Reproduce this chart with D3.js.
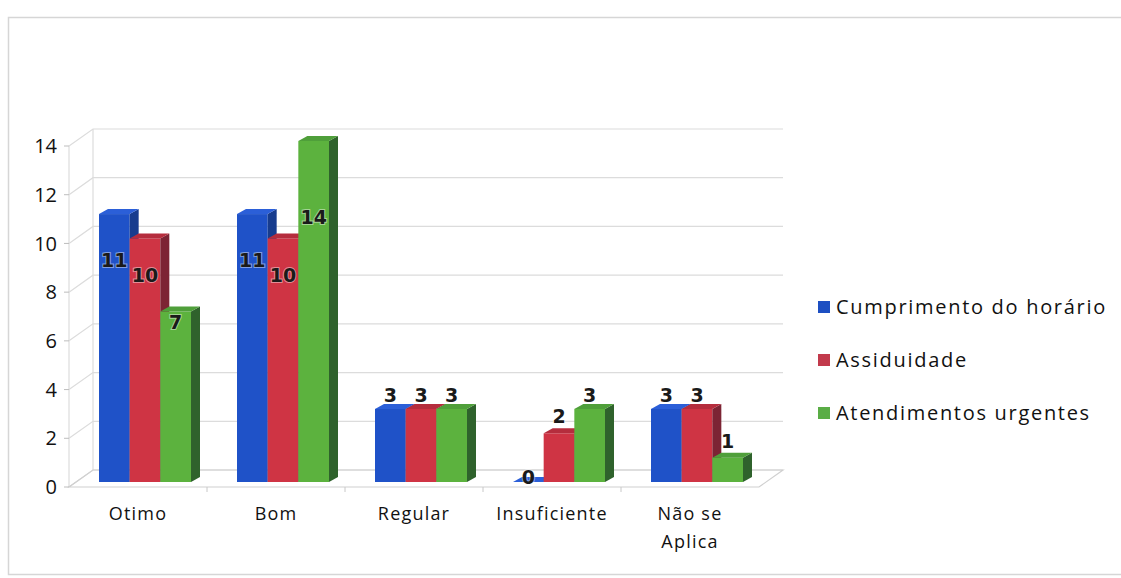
<!DOCTYPE html>
<html>
<head>
<meta charset="utf-8">
<script src="https://cdn.jsdelivr.net/npm/d3@7"></script>
<style>
  html, body { margin: 0; padding: 0; background: #fff; }
  svg { display: block; }
</style>
</head>
<body>
<svg id="chart" width="1121" height="578"></svg>
<script>
// Categories, series and values
const categories = ["Otimo", "Bom", "Regular", "Insuficiente", "Não se Aplica"];
const seriesNames = ["Cumprimento do horário", "Assiduidade", "Atendimentos urgentes"];
const cumprimento = [11, 11, 3, 0, 3];
const assiduidade = [10, 10, 3, 2, 3];
const urgentes = [7, 14, 3, 3, 1];
const yTicks = [0, 2, 4, 6, 8, 10, 12, 14];

const seriesValues = [cumprimento, assiduidade, urgentes];
const faceColors = ["#1f52c8", "#cf3444", "#5cb23e"];
const sideColors = ["#173c8e", "#7c2434", "#2f622c"];
const topColors = ["#2b5fd8", "#b52d3d", "#4f9f3a"];
const legendColors = ["#1d4fc2", "#c23a4c", "#5aad46"];

const svg = d3.select("#chart");

// chart frame
svg.append("rect")
  .attr("x", 8.5).attr("y", 17.5).attr("width", 1140).attr("height", 557)
  .attr("fill", "none").attr("stroke", "#d6d6d6").attr("stroke-width", 1.5);

// plot geometry: front plane, back wall depth, bar plane offset
const left = 69, right = 759;
const wallDx = 24, wallDy = -17;   // depth of floor / walls
const barDx = 7, barDy = -5;       // bars sit slightly behind the front plane
const sideDx = 9, sideDy = -5;     // depth of each bar

const y = d3.scaleLinear().domain([0, 14]).range([487, 146]);
const x = d3.scaleBand().domain(categories).range([left, right])
  .paddingInner(1 / 3).paddingOuter(1 / 6);
const xs = d3.scaleBand().domain(d3.range(seriesNames.length)).range([0, x.bandwidth()]);

const grid = svg.append("g").attr("fill", "none").attr("stroke", "#dcdcdc").attr("stroke-width", 1.2);

// gridlines: diagonal on the side wall, then across the back wall
yTicks.forEach(t => {
  const y0 = y(t);
  grid.append("path")
    .attr("d", `M${left},${y0} L${left + wallDx},${y0 + wallDy} L${right + wallDx},${y0 + wallDy}`);
});
// back wall left edge and side wall front edge
grid.append("line").attr("x1", left).attr("x2", left).attr("y1", y(14)).attr("y2", y(0));
grid.append("line").attr("x1", left + wallDx).attr("x2", left + wallDx)
  .attr("y1", y(14) + wallDy).attr("y2", y(0) + wallDy);
// floor
grid.append("path")
  .attr("d", `M${left},${y(0)} L${right},${y(0)} L${right + wallDx},${y(0) + wallDy} L${left + wallDx},${y(0) + wallDy} Z`)
  .attr("stroke", "#d0d0d0");

// y axis ticks and labels
const yAxis = svg.append("g");
yTicks.forEach(t => {
  yAxis.append("line").attr("x1", left - 5).attr("x2", left).attr("y1", y(t)).attr("y2", y(t))
    .attr("stroke", "#bdbdbd").attr("stroke-width", 1);
  yAxis.append("text").attr("x", 57).attr("y", y(t)).attr("dy", "0.36em")
    .attr("text-anchor", "end")
    .attr("font-family", "Open Sans, sans-serif").attr("font-size", 20)
    .attr("fill", "#111").text(t);
});

// category ticks on the floor front edge
categories.forEach((c, i) => {
  const xt = x(c) - x.step() * x.paddingInner() / 2 + x.step();
  if (i < categories.length - 1) {
    svg.append("line").attr("x1", xt).attr("x2", xt).attr("y1", y(0)).attr("y2", y(0) + 5)
      .attr("stroke", "#c8c8c8");
  }
});

// category labels
const catLabels = svg.append("g")
  .attr("font-family", "Open Sans, sans-serif").attr("font-size", 18)
  .attr("letter-spacing", "1.2px").attr("fill", "#111").attr("text-anchor", "middle");
categories.forEach(c => {
  const cx = x(c) + x.bandwidth() / 2;
  const words = c === "Não se Aplica" ? ["Não se", "Aplica"] : [c];
  words.forEach((w, k) => {
    catLabels.append("text").attr("x", cx).attr("y", 520 + k * 28).text(w);
  });
});

// bars
const yBar = v => y(v) + barDy;
const bars = svg.append("g");
categories.forEach((c, ci) => {
  seriesValues.forEach((vals, si) => {
    const v = vals[ci];
    const x0 = x(c) + barDx + xs(si);
    const w = xs.bandwidth();
    const yt = yBar(v), yb = yBar(0);
    const g = bars.append("g");
    g.append("rect").attr("x", x0).attr("y", yt).attr("width", w).attr("height", yb - yt)
      .attr("fill", faceColors[si]);
    g.append("path")
      .attr("d", `M${x0 + w},${yt} L${x0 + w + sideDx},${yt + sideDy} L${x0 + w + sideDx},${yb + sideDy} L${x0 + w},${yb} Z`)
      .attr("fill", sideColors[si]);
    g.append("path")
      .attr("d", `M${x0},${yt} L${x0 + sideDx},${yt + sideDy} L${x0 + w + sideDx},${yt + sideDy} L${x0 + w},${yt} Z`)
      .attr("fill", topColors[si]);
  });
});

// data labels, placed on their bars
const labelY = d3.scalePow().exponent(0.75).domain([0, 14]).range([477, 217]);
const labels = svg.append("g")
  .attr("font-family", "DejaVu Sans, sans-serif").attr("font-size", 19).attr("font-weight", "bold")
  .attr("fill", "#1a1a1a").attr("text-anchor", "middle")
  .attr("stroke", "rgba(255,255,255,0.45)").attr("stroke-width", 2).attr("paint-order", "stroke");
categories.forEach((c, ci) => {
  seriesValues.forEach((vals, si) => {
    const v = vals[ci];
    const cx = x(c) + barDx + xs(si) + xs.bandwidth() / 2;
    labels.append("text").attr("x", cx).attr("y", labelY(v)).attr("dy", "0.36em").text(v);
  });
});

// legend
const legend = svg.append("g").attr("font-family", "Open Sans, sans-serif").attr("font-size", 20)
  .attr("letter-spacing", "1.7px").attr("fill", "#111");
seriesNames.forEach((s, i) => {
  const ly = 307 + i * 53;
  legend.append("rect").attr("x", 818).attr("y", ly - 6).attr("width", 12).attr("height", 12)
    .attr("fill", legendColors[i]);
  legend.append("text").attr("x", 836).attr("y", ly).attr("dy", "0.36em").text(s);
});
</script>
</body>
</html>
